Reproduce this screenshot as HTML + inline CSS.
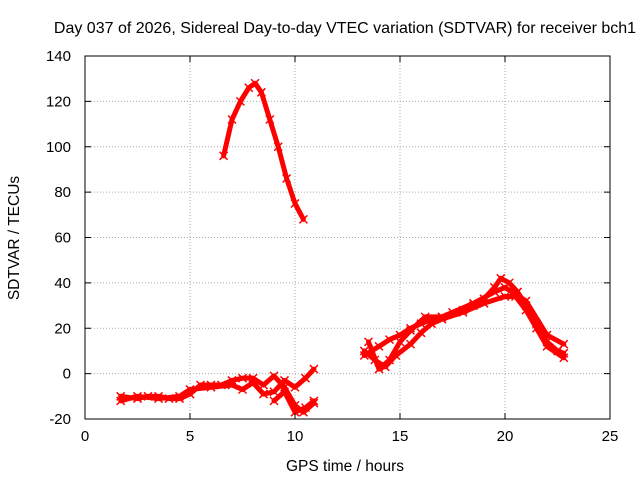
<!DOCTYPE html>
<html><head><meta charset="utf-8"><style>
body{margin:0;background:#fff}
svg{display:block;font-family:"Liberation Sans",sans-serif}
</style></head><body>
<svg id="chart" width="640" height="480">
<rect width="640" height="480" fill="#fff"/>
<text x="345" y="33" font-size="16" text-anchor="middle">Day 037 of 2026, Sidereal Day-to-day VTEC variation (SDTVAR) for receiver bch1</text>
<g id="grid"></g>
<g id="series"></g>
<rect x="85" y="56" width="525" height="363" fill="none" stroke="#000"/>
<g id="axes"></g>
<text x="345" y="471" font-size="15.5" text-anchor="middle">GPS time / hours</text>
<text x="19" y="238" font-size="15.5" text-anchor="middle" transform="rotate(-90 19 238)">SDTVAR / TECUs</text>
</svg>
<script>
const xTicks=[0,5,10,15,20,25];
const yTicks=[-20,0,20,40,60,80,100,120,140];
const trackPeakX=[6.6,7,7.4,7.8,8.1,8.4,8.8,9.2,9.6,10,10.4];
const trackPeakY=[96,112,120,126,128,124,112,100,86,75,68];
const trackLow1X=[1.7,2.5,3,3.5,4,4.5,5,5.5,6,6.5,7,7.5,8,8.5,9,9.5,10,10.4,10.9];
const trackLow1Y=[-10,-11,-10,-10,-11,-11,-9,-5,-5,-5,-3,-2,-2,-5,-1,-6,-14,-17,-13];
const trackLow2X=[1.7,2.5,3.5,4.5,5,6,7,7.5,8,8.5,9,9.5,10,10.5,10.9];
const trackLow2Y=[-12,-10,-11,-10,-7,-6,-5,-7,-4,-9,-8,-3,-6,-2,2];
const trackLow3X=[9,9.5,10,10.5,10.9];
const trackLow3Y=[-12,-8,-17,-15,-12];
const trackR1X=[13.3,14,14.5,15,15.5,16,16.5,17,17.5,18,18.5,19,19.5,19.8,20.2,20.6,21,21.5,22,22.5,22.8];
const trackR1Y=[8,12,15,17,20,22,24,25,27,28,30,33,38,42,40,36,30,22,14,10,9];
const trackR2X=[13.3,13.8,14.3,14.8,15.5,16,16.5,17,18,19,20,20.5,21,21.5,22,22.8];
const trackR2Y=[10,6,3,8,13,18,22,24,27,31,34,34,28,20,12,7];
const trackR3X=[13.5,14,14.5,15,15.5,16.2,17,18.5,19.5,20,21,22,22.8];
const trackR3Y=[14,2,6,14,19,25,25,31,36,38,32,17,13];
const tracks=[[trackPeakX,trackPeakY],[trackLow1X,trackLow1Y],[trackLow2X,trackLow2Y],[trackLow3X,trackLow3Y],[trackR1X,trackR1Y],[trackR2X,trackR2Y],[trackR3X,trackR3Y]];
const X=v=>85+v*21, Y=v=>419-(v+20)*363/160;
const NS='http://www.w3.org/2000/svg';
const grid=document.getElementById('grid'),axes=document.getElementById('axes'),ser=document.getElementById('series');
function mk(t,a,p){const e=document.createElementNS(NS,t);for(const k in a)e.setAttribute(k,a[k]);p.appendChild(e);return e;}
xTicks.forEach(t=>{const x=X(t);
 if(t>0&&t<25){const l=mk('line',{x1:x,x2:x,y1:56,y2:419,stroke:'#aaa','stroke-dasharray':'1,2'},grid);}
 mk('line',{x1:x,x2:x,y1:419,y2:413,stroke:'#000'},axes);mk('line',{x1:x,x2:x,y1:56,y2:62,stroke:'#000'},axes);
 const tx=mk('text',{x:x,y:441,'font-size':15,'text-anchor':'middle'},axes);tx.textContent=t;
 });
yTicks.forEach(t=>{const y=Y(t);
 if(t>-20&&t<140){const l=mk('line',{x1:85,x2:610,y1:y,y2:y,stroke:'#aaa','stroke-dasharray':'1,2'},grid);}
 mk('line',{x1:85,x2:91,y1:y,y2:y,stroke:'#000'},axes);mk('line',{x1:604,x2:610,y1:y,y2:y,stroke:'#000'},axes);
 const tx=mk('text',{x:71,y:y+5,'font-size':15,'text-anchor':'end'},axes);tx.textContent=t;
 });
tracks.forEach(([xs,ys])=>{
 const p=mk('polyline',{points:xs.map((v,i)=>X(v)+','+Y(ys[i])).join(' '),fill:'none',stroke:'#f00','stroke-width':5,'stroke-linejoin':'round','stroke-linecap':'round'},ser);
 
 xs.forEach((v,i)=>{const x=X(v),y=Y(ys[i]);
  const c=mk('path',{d:`M${x-4},${y-4}L${x+4},${y+4}M${x-4},${y+4}L${x+4},${y-4}`,stroke:'#f00','stroke-width':1.5},ser);
  });
});
</script>
</body></html>
